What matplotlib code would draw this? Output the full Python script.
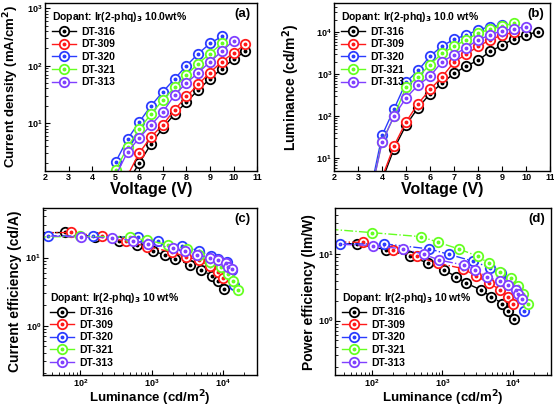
import numpy as np
import matplotlib.pyplot as plt
from matplotlib.lines import Line2D

plt.rcParams['font.family'] = ['Liberation Sans', 'DejaVu Sans']
plt.rcParams['font.weight'] = 'bold'
plt.rcParams['mathtext.default'] = 'bf'

devices = ['DT-316', 'DT-309', 'DT-320', 'DT-321', 'DT-313']
colors = ['#000000', '#ff1a1a', '#2b3cff', '#66ff22', '#8040ff']

# (a) J-V
volt_a = [[5.5, 6, 6.5, 7, 7.5, 8, 8.5, 9, 9.5, 10, 10.5],
          [5.5, 6, 6.5, 7, 7.5, 8, 8.5, 9, 9.5, 10, 10.5],
          [4.5, 5, 5.5, 6, 6.5, 7, 7.5, 8, 8.5, 9, 9.5],
          [4.5, 5, 5.5, 6, 6.5, 7, 7.5, 8, 8.5, 9, 9.5],
          [5, 5.5, 6, 6.5, 7, 7.5, 8, 8.5, 9, 9.5, 10]]
curr_a = [[0.9, 2.0, 4.3, 8.2, 14.4, 23, 38, 59, 89, 130, 178],
          [1.2, 3.0, 5.7, 9.3, 17, 29, 47, 76, 117, 168, 235],
          [0.6, 2.1, 5.2, 10.4, 20, 35, 59, 100, 162, 245, 325],
          [0.5, 1.5, 3.8, 7.8, 14.4, 25, 42, 69, 109, 162, 245],
          [1.2, 3.1, 5.5, 9.2, 15.5, 31, 50, 75, 117, 178, 275]]

# (b) L-V
volt_b = [[4, 4.5, 5, 5.5, 6, 6.5, 7, 7.5, 8, 8.5, 9, 9.5, 10, 10.5],
          [4, 4.5, 5, 5.5, 6, 6.5, 7, 7.5, 8, 8.5, 9, 9.5],
          [3.5, 4, 4.5, 5, 5.5, 6, 6.5, 7, 7.5, 8, 8.5, 9],
          [3.5, 4, 4.5, 5, 5.5, 6, 6.5, 7, 7.5, 8, 8.5, 9, 9.5],
          [3.5, 4, 4.5, 5, 5.5, 6, 6.5, 7, 7.5, 8, 8.5, 9, 9.5, 10]]
lum_b = [[3, 17, 62, 160, 345, 620, 1050, 1560, 2150, 3500, 4900, 7100, 8600, 10400],
         [3.5, 20, 74, 200, 435, 870, 1950, 3000, 4600, 6600, 8600, 10000],
         [1.5, 35, 150, 650, 1230, 2700, 4700, 6800, 8600, 11400, 13600, 14500],
         [1.2, 25, 100, 500, 870, 1700, 3150, 4600, 6600, 9500, 11800, 14000, 16500],
         [1.2, 24, 102, 275, 550, 900, 2000, 2900, 4300, 6600, 8600, 11000, 12000, 13600]]

# (c), (d) efficiencies vs luminance
lum_cd = [[17, 62, 160, 345, 620, 1050, 1560, 2150, 3500, 4900, 7100, 8600, 10400],
          [20, 74, 200, 435, 870, 1950, 3000, 4600, 6600, 8600, 10000],
          [35, 150, 650, 1230, 2700, 4700, 6800, 8600, 11400, 13600, 14500],
          [25, 100, 500, 870, 1700, 3150, 4600, 6600, 9500, 11800, 14000, 16500],
          [24, 102, 275, 550, 900, 2000, 2900, 4300, 6600, 8600, 11000, 12000, 13600]]
ce_c = [[23, 23.3, 20, 17.7, 15.2, 12.4, 10.9, 9.5, 7.8, 6.6, 5.4, 4.5, 3.5],
        [23, 23.3, 20.4, 17.3, 14.5, 12, 10.3, 9.2, 7.5, 6.2, 5.0],
        [21, 20.4, 20, 17.3, 14.8, 12.5, 10.5, 9.5, 8.5, 6.5, 4.0],
        [20, 20.4, 20, 17.8, 15.5, 13.2, 10.8, 8.5, 7.2, 5.8, 4.6, 3.4],
        [21, 20, 19.5, 17.7, 15.6, 14, 12.4, 11, 10, 9.3, 8.3, 7.2, 6.8]]
pe_d = [[14.7, 14.4, 11.7, 9.4, 7.4, 5.8, 4.6, 3.7, 2.9, 2.3, 1.8, 1.4, 1.05],
        [15.5, 15.2, 11.5, 9.3, 7.3, 6.1, 4.7, 3.7, 2.9, 2.3, 1.8],
        [14.4, 14.4, 12.1, 10.0, 7.9, 6.3, 5.3, 4.0, 3.2, 2.5, 1.4],
        [24, 21.3, 18.5, 15.2, 12.1, 9.4, 7.3, 5.5, 4.4, 3.3, 2.5, 1.77],
        [14.4, 13.6, 12.1, 10.0, 8.2, 6.9, 5.8, 4.6, 3.9, 3.5, 2.9, 2.5, 2.1]]


def draw(ax, xs, ys, ls):
    for x, y, c in zip(xs, ys, colors):
        ax.plot(x, y, ls, color=c, lw=1.0, marker='o', ms=6.8, mfc='white',
                mec=c, mew=1.3)
        ax.plot(x, y, 'o', color=c, ms=1.8, ls='none')


def add_legend(ax, title, loc, anchor):
    handles = []
    for c in colors:
        ln = Line2D([], [], color=c, lw=1.0, marker='o', ms=6.8, mfc='white',
                    mec=c, mew=1.3)
        dot = Line2D([], [], color=c, marker='o', ms=1.8, ls='none')
        handles.append((ln, dot))
    leg = ax.legend(handles, devices, title=title, loc=loc, bbox_to_anchor=anchor,
                    frameon=False, fontsize=7.5, title_fontsize=7.5,
                    handlelength=2.3, labelspacing=0.25, handletextpad=0.5,
                    borderpad=0.2, alignment='left')
    leg.get_title().set_fontweight('bold')


def style(ax, label, xlab, ylab, xsize, ysize, ylx, xly):
    ax.tick_params(which='both', direction='in', labelsize=6.5, pad=1.5)
    ax.tick_params(which='major', length=3.5)
    ax.tick_params(which='minor', length=2)
    for s in ax.spines.values():
        s.set_linewidth(1.0)
    ax.set_xlabel(xlab, fontsize=xsize, fontweight='bold')
    ax.set_ylabel(ylab, fontsize=ysize, fontweight='bold')
    ax.xaxis.set_label_coords(0.5, xly)
    ax.yaxis.set_label_coords(ylx, 0.5)
    ax.text(0.97, 0.97, label, transform=ax.transAxes, ha='right', va='top',
            fontsize=9.5, fontweight='bold')


fig = plt.figure(figsize=(5.54, 4.11), dpi=100)
ax_a = fig.add_axes([0.0812, 0.584, 0.383, 0.409])
ax_b = fig.add_axes([0.603, 0.584, 0.390, 0.409])
ax_c = fig.add_axes([0.0776, 0.0876, 0.386, 0.406])
ax_d = fig.add_axes([0.605, 0.0876, 0.390, 0.406])

draw(ax_a, volt_a, curr_a, '-')
ax_a.set_yscale('log')
ax_a.set_xlim(2, 11)
ax_a.set_ylim(1.45, 1250)
ax_a.set_xticks(np.arange(2, 12, 1))
add_legend(ax_a, 'Dopant: Ir(2-phq)$_3$ 10.0wt%', 'upper left', (0.0, 1.0))
style(ax_a, '(a)', 'Voltage (V)', 'Current density (mA/cm$^2$)', 11.5, 9.5, -0.115, -0.065)

draw(ax_b, volt_b, lum_b, '-')
ax_b.set_yscale('log')
ax_b.set_xlim(2, 11)
ax_b.set_ylim(5, 5e4)
ax_b.set_xticks(np.arange(2, 12, 1))
add_legend(ax_b, 'Dopant: Ir(2-phq)$_3$ 10.0 wt%', 'upper left', (0.0, 1.0))
style(ax_b, '(b)', 'Voltage (V)', 'Luminance (cd/m$^2$)', 11.5, 10, -0.148, -0.065)

draw(ax_c, lum_cd, ce_c, '-.')
ax_c.set_xscale('log')
ax_c.set_yscale('log')
ax_c.set_xlim(30, 30000)
ax_c.set_ylim(0.19, 53)
add_legend(ax_c, 'Dopant: Ir(2-phq)$_3$ 10 wt%', 'lower left', (0.0, 0.0))
style(ax_c, '(c)', 'Luminance (cd/m$^2$)', 'Current efficiency (cd/A)', 9.5, 10, -0.098, -0.078)

draw(ax_d, lum_cd, pe_d, '-.')
ax_d.set_xscale('log')
ax_d.set_yscale('log')
ax_d.set_xlim(30, 35000)
ax_d.set_ylim(0.15, 50)
add_legend(ax_d, 'Dopant: Ir(2-phq)$_3$ 10 wt%', 'lower left', (0.0, 0.0))
style(ax_d, '(d)', 'Luminance (cd/m$^2$)', 'Power efficiency (lm/W)', 9.5, 10, -0.088, -0.078)

fig.savefig('out.png', dpi=100)
